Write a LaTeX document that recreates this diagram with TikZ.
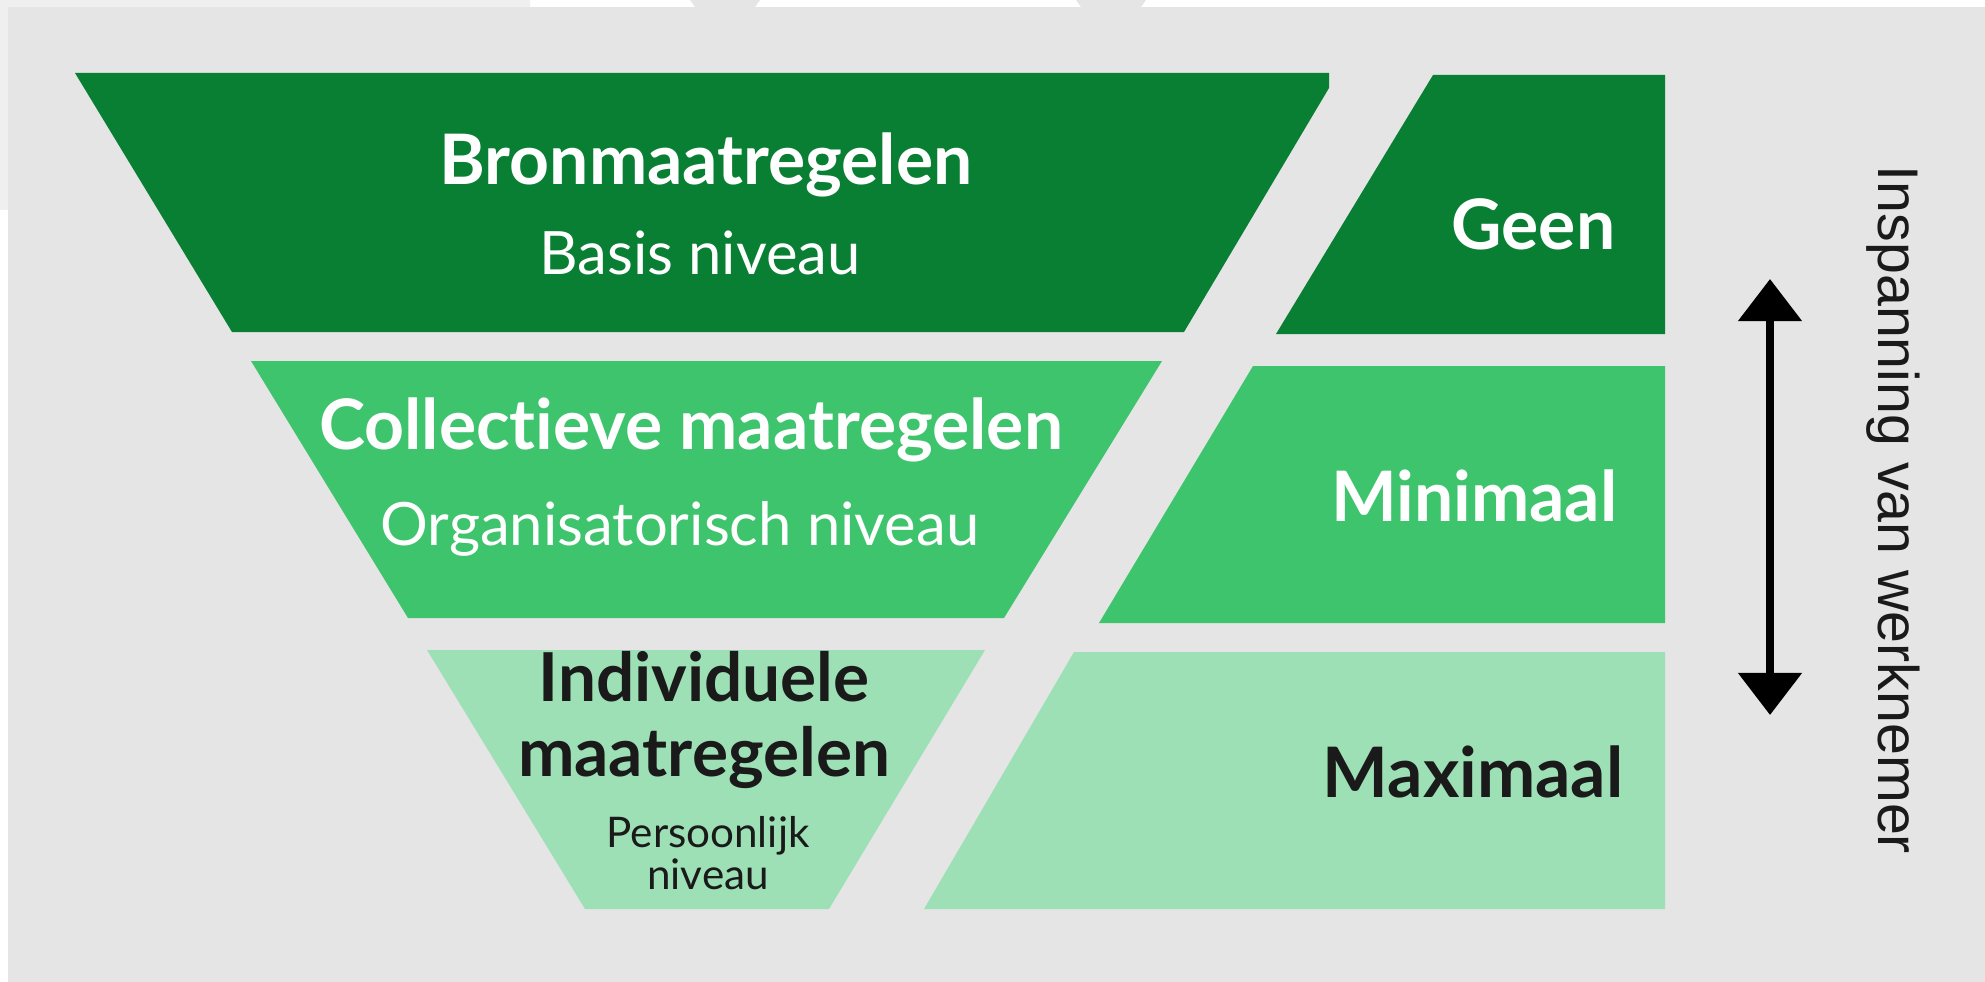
\documentclass[tikz,border=0pt]{standalone}
\usepackage{fontspec}
\setmainfont{Lato}[Ligatures=NoCommon]
\newfontfamily\sidefont{Liberation Sans}
\usetikzlibrary{arrows.meta}

\definecolor{bggray}{HTML}{E5E5E5}
\definecolor{stripgray}{HTML}{EFEFEF}
\definecolor{bronGreen}{HTML}{087F33}
\definecolor{collGreen}{HTML}{3EC46D}
\definecolor{indGreen}{HTML}{9DE0B5}
\definecolor{darktxt}{HTML}{1A1A1A}

\begin{document}
\begin{tikzpicture}[
        x=0.01cm, y=-0.01cm,
        titletxt/.style={inner sep=0pt, text=white, font=\fontsize{19.8}{21.5}\selectfont\bfseries},
        subtxt/.style={inner sep=0pt, text=white, font=\fontsize{17}{20}\selectfont},
        smalltxt/.style={inner sep=0pt, text=darktxt, align=center, font=\fontsize{12}{10}\selectfont},
        sidetxt/.style={inner sep=0pt, text=darktxt, font=\sidefont\fontsize{16.3}{18}\selectfont},
        effort/.style={line width=2.3pt, {Triangle[width=0.62cm, length=0.42cm]}-{Triangle[width=0.62cm, length=0.42cm]}}
        ]
        \useasboundingbox (0,0) rectangle (1985,982);
        \fill[white] (0,0) rectangle (1985,982);
        \fill[bggray] (8,7) rectangle (1985,982);
        \fill[stripgray] (0,0) -- (530,0) -- (530,7) -- (8,7) -- (8,210) -- (0,210) -- cycle;
        \fill[bggray] (690,0) -- (760,0) -- (755,7) -- (695,7) -- cycle;
        \fill[bggray] (1076,0) -- (1146,0) -- (1141,7) -- (1081,7) -- cycle;

        % funnel
        \fill[bronGreen] (75,73) -- (1329,73) -- (1329,88) -- (1184,332) -- (232,332) -- cycle;
        \fill[collGreen] (251,361) -- (1162,361) -- (1004,618) -- (408,618) -- cycle;
        \fill[indGreen] (427,650) -- (985,650) -- (829,909) -- (585,909) -- cycle;

        % effort blocks
        \fill[bronGreen] (1433,75) -- (1665,75) -- (1665,334) -- (1276,334) -- cycle;
        \fill[collGreen] (1253,366) -- (1665,366) -- (1665,623) -- (1099,623) -- cycle;
        \fill[indGreen] (1074,652) -- (1665,652) -- (1665,909) -- (924,909) -- cycle;

        \node[titletxt] (bron) at (706,165) {Bronmaatregelen};
        \node[subtxt] (bronsub) at (700,253) {Basis niveau};
        \node[titletxt] (coll) at (691,430) {Collectieve maatregelen};
        \node[subtxt] (collsub) at (680,529) {Organisatorisch niveau};
        \node[titletxt, text=darktxt, align=center, font=\fontsize{19.2}{21.5}\selectfont\bfseries] (ind) at (704,720) {Individuele\\maatregelen};
        \node[smalltxt] (indsub) at (708,853) {Persoonlijk\\niveau};

        \node[titletxt, anchor=east] (geen) at (1616,224) {Geen};
        \node[titletxt, anchor=east] (mini) at (1618,496) {Minimaal};
        \node[titletxt, text=darktxt, anchor=east] (maxi) at (1624,772) {Maximaal};

        \coordinate (arrtop) at (1770,279);
        \coordinate (arrbot) at (1770,715);
        \draw[effort] (arrbot) -- (arrtop);
        \node[sidetxt, rotate=-90] (effortlbl) at (1893,510) {Inspanning van werknemer};
    \end{tikzpicture}
\end{document}
